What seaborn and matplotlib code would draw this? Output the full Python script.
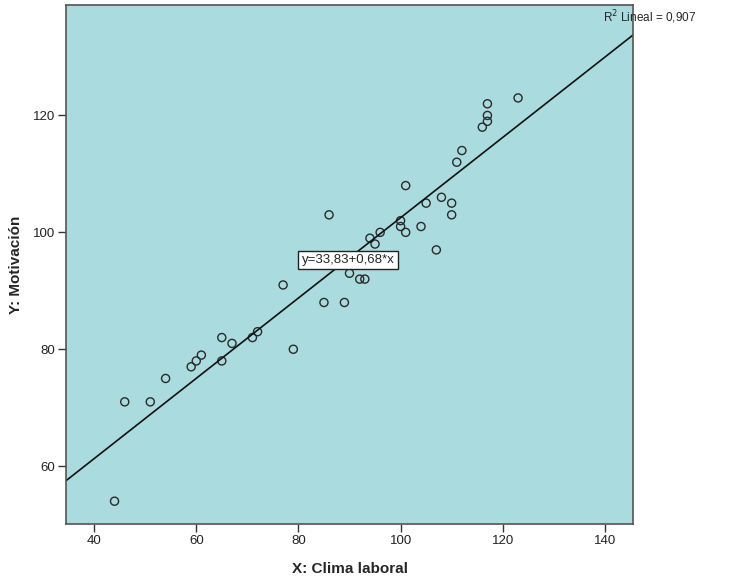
import matplotlib
matplotlib.use("Agg")
import matplotlib.pyplot as plt
import seaborn as sns
import pandas as pd

clima = [44, 46, 51, 54, 59, 60, 61, 65, 65, 67, 71, 72, 77, 79, 85, 89, 86,
         117, 123, 117, 117, 116, 112, 111, 101, 108, 105, 110, 110, 100, 100,
         101, 104, 107, 96, 94, 95, 90, 92, 93]
motivacion = [54, 71, 71, 75, 77, 78, 79, 82, 78, 81, 82, 83, 91, 80, 88, 88, 103,
              122, 123, 120, 119, 118, 114, 112, 108, 106, 105, 105, 103, 102, 101,
              100, 101, 97, 100, 99, 98, 93, 92, 92]
x_ticks = [40, 60, 80, 100, 120, 140]
y_ticks = [60, 80, 100, 120]
x_label = "X: Clima laboral"
y_label = "Y: Motivación"
eq_text = "y=33,83+0,68*x"
r2_text = "R$^2$ Lineal = 0,907"

df = pd.DataFrame({"clima": clima, "motivacion": motivacion})

sns.set_style("white")
plt.rcParams['font.family'] = ['Liberation Sans', 'DejaVu Sans']

fig = plt.figure(figsize=(7.34, 5.80), dpi=100)
ax = fig.add_axes([66/734, 1-524/580, (633-66)/734, (524-5)/580])
ax.set_facecolor("#AADBDE")
ax.set_xlim(34.5, 145.5)
ax.set_ylim(50.1, 138.9)

sns.regplot(data=df, x="clima", y="motivacion", ax=ax, ci=None, truncate=False,
            scatter_kws=dict(s=34, facecolors="none", edgecolors="#2a2a2a",
                             linewidths=1.0, alpha=1),
            line_kws=dict(color="#111111", linewidth=1.2))
ax.set_xlim(34.5, 145.5)
ax.set_ylim(50.1, 138.9)

ax.set_xticks(x_ticks)
ax.set_yticks(y_ticks)
ax.tick_params(axis="both", direction="out", length=6, width=1, color="#333333",
               labelsize=9.5, labelcolor="#222222", bottom=True, left=True, pad=2)
for s in ax.spines.values():
    s.set_color("#555555")
    s.set_linewidth(1.2)

ax.set_xlabel(x_label, fontsize=11, fontweight="bold", labelpad=11)
ax.set_ylabel(y_label, fontsize=11, fontweight="bold", labelpad=7)

ax.text(89.7, 95.3, eq_text, fontsize=9.5, ha="center", va="center",
        bbox=dict(boxstyle="square,pad=0.25", facecolor="white", edgecolor="#222222", linewidth=1))
fig.text(603/734, 1-17/580, r2_text, fontsize=8.5, ha="left", va="center")

fig.savefig("out.png", dpi=100, facecolor="white")
